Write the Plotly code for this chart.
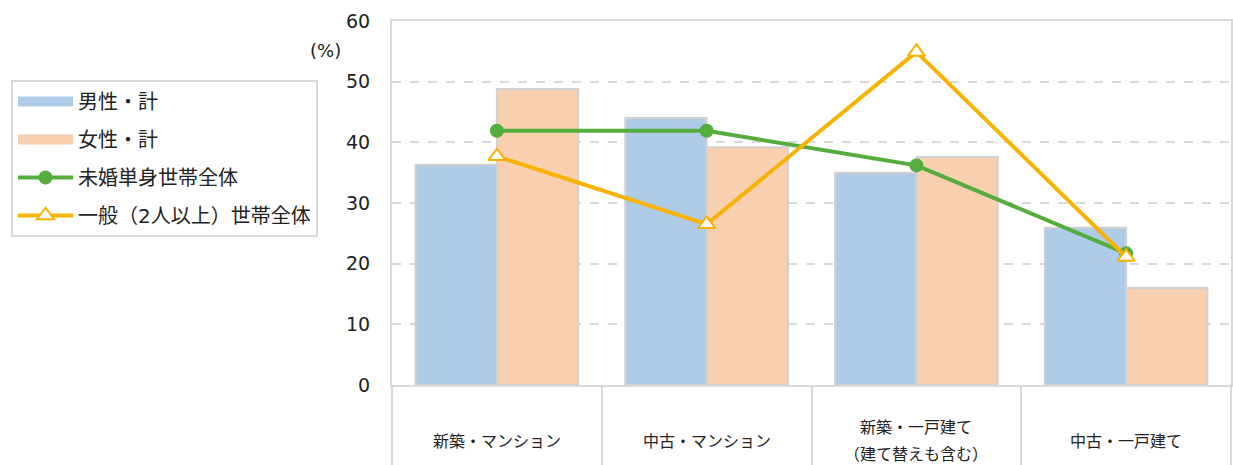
import plotly.graph_objects as go

categories = ["新築・マンション", "中古・マンション", "新築・一戸建て<br>（建て替えも含む）", "中古・一戸建て"]
male = [36.3, 44.0, 35.0, 25.9]
female = [48.8, 39.2, 37.6, 16.0]
unmarried_single = [41.9, 41.9, 36.2, 21.7]
general_households = [37.7, 26.5, 54.9, 21.1]
y_ticks = [0, 10, 20, 30, 40, 50, 60]

FONT = "DejaVu Sans, Noto Sans CJK JP, sans-serif"
GRID = "#d9d9d9"
TXT = "#222222"
MALE_C = "#aecbe8"
FEMALE_C = "#f8d0b0"

fig = go.Figure()
fig.add_trace(go.Bar(x=categories, y=male, name="男性・計", legendgroup="a", showlegend=False,
                     marker=dict(color=MALE_C, line=dict(color="#d0d0d0", width=2))))
fig.add_trace(go.Bar(x=categories, y=female, name="女性・計", legendgroup="b", showlegend=False,
                     marker=dict(color=FEMALE_C, line=dict(color="#d0d0d0", width=2))))
# legend swatches for the bar series (wide rectangles like the original)
fig.add_trace(go.Scatter(x=[None], y=[None], name="男性・計", legendgroup="a", mode="lines",
                         line=dict(color=MALE_C, width=14)))
fig.add_trace(go.Scatter(x=[None], y=[None], name="女性・計", legendgroup="b", mode="lines",
                         line=dict(color=FEMALE_C, width=14)))
fig.add_trace(go.Scatter(x=categories, y=unmarried_single, name="未婚単身世帯全体", legendgroup="c",
                         mode="lines+markers",
                         line=dict(color="#55ad3e", width=4),
                         marker=dict(symbol="circle", size=14, color="#55ad3e")))
fig.add_trace(go.Scatter(x=categories, y=general_households, name="一般（2人以上）世帯全体", legendgroup="d",
                         mode="lines+markers",
                         line=dict(color="#f9b200", width=4),
                         marker=dict(symbol="triangle-up", size=15, color="white",
                                     line=dict(color="#f9b200", width=2))))

LINE_GAP = 27
for c in categories:
    lines = c.split("<br>")
    n = len(lines)
    for i, ln in enumerate(lines):
        fig.add_annotation(x=c, xref="x", y=-0.154, yref="paper", text=ln, showarrow=False,
                           yanchor="middle", xanchor="center",
                           yshift=-(i - (n - 1) / 2) * LINE_GAP,
                           font=dict(family=FONT, size=16, color=TXT))

fig.add_annotation(x=(325 - 392) / 839, y=(385 - 50) / 364, xref="paper", yref="paper",
                   text="(%)", showarrow=False, xanchor="center", yanchor="middle",
                   font=dict(family=FONT, size=18, color=TXT))

fig.update_layout(
    width=1233, height=465,
    margin=dict(l=392, r=2, t=21, b=80),
    paper_bgcolor="white", plot_bgcolor="white",
    barmode="group", bargap=0.225, bargroupgap=0,
    font=dict(family=FONT, color=TXT),
    legend=dict(xref="container", yref="container", x=11 / 1233, y=1 - 80 / 465,
                xanchor="left", yanchor="top",
                bordercolor=GRID, borderwidth=2, bgcolor="white",
                font=dict(family=FONT, size=20, color=TXT),
                tracegroupgap=9, itemwidth=55),
    xaxis=dict(showticklabels=False, ticks="outside", tickson="boundaries", ticklen=78,
               tickcolor=GRID, tickwidth=2, showline=True, linecolor=GRID, linewidth=2,
               mirror=True, showgrid=False, automargin=False),
    yaxis=dict(range=[0, 60], tickvals=y_ticks, showgrid=True, gridcolor=GRID, gridwidth=2,
               griddash="dash", zeroline=False, showline=True, linecolor=GRID, linewidth=2,
               mirror=True, ticks="", ticklabelstandoff=16, automargin=False,
               tickfont=dict(family=FONT, size=19, color=TXT)),
)

fig.write_html("out.html")
